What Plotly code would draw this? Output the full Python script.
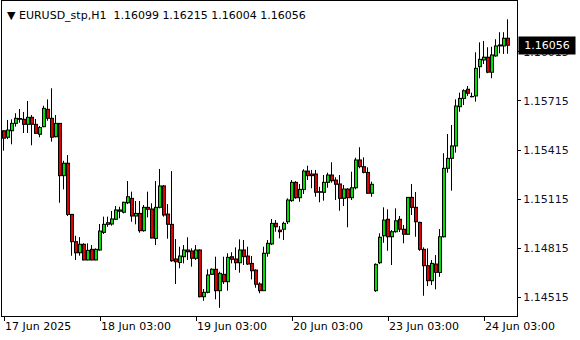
import plotly.graph_objects as go

symbol_title = "EURUSD_stp,H1"

open_ = [1.15533, 1.15493, 1.15533, 1.15578, 1.15603, 1.15603, 1.15572, 1.15615, 1.15572, 1.15511,
         1.15558, 1.15664, 1.15609, 1.15496, 1.15578, 1.15258, 1.15334, 1.15021, 1.14854, 1.14786,
         1.14838, 1.14742, 1.14807, 1.14742, 1.14803, 1.14911, 1.14960, 1.14962, 1.14991, 1.15040,
         1.15034, 1.15092, 1.15119, 1.15011, 1.15027, 1.14921, 1.15064, 1.15054, 1.14874, 1.15064,
         1.15195, 1.15023, 1.14960, 1.14748, 1.14727, 1.14762, 1.14803, 1.14797, 1.14752, 1.14803,
         1.14517, 1.14544, 1.14654, 1.14685, 1.14554, 1.14654, 1.14609, 1.14762, 1.14748, 1.14725,
         1.14803, 1.14766, 1.14721, 1.14680, 1.14595, 1.14554, 1.14783, 1.14840, 1.14966, 1.14925,
         1.14930, 1.14976, 1.15105, 1.15217, 1.15123, 1.15174, 1.15286, 1.15268, 1.15268, 1.15156,
         1.15156, 1.15217, 1.15262, 1.15231, 1.15207, 1.15119, 1.15176, 1.15123, 1.15184, 1.15354,
         1.15313, 1.15278, 1.15150, 1.14554, 1.14725, 1.14890, 1.14991, 1.14884, 1.14915, 1.14991,
         1.14930, 1.14899, 1.15125, 1.15064, 1.14972, 1.14807, 1.14707, 1.14615, 1.14717, 1.14666,
         1.14884, 1.15303, 1.15364, 1.15440, 1.15680, 1.15731, 1.15787, 1.15741, 1.15746, 1.15925,
         1.15966, 1.15983, 1.15891, 1.15991, 1.16052, 1.16052, 1.16099]

high = [1.15537, 1.15599, 1.15603, 1.15640, 1.15666, 1.15648, 1.15715, 1.15629, 1.15605, 1.15562,
        1.15686, 1.15725, 1.15793, 1.15629, 1.15580, 1.15349, 1.15384, 1.15023, 1.14890, 1.14882,
        1.14844, 1.14844, 1.14833, 1.14813, 1.14962, 1.15007, 1.15007, 1.15042, 1.15072, 1.15068,
        1.15098, 1.15225, 1.15160, 1.15103, 1.15103, 1.15078, 1.15160, 1.15089, 1.15225, 1.15299,
        1.15201, 1.15084, 1.15286, 1.14870, 1.14823, 1.14833, 1.14881, 1.14813, 1.14833, 1.14807,
        1.14564, 1.14685, 1.14691, 1.14762, 1.14670, 1.14762, 1.14783, 1.14789, 1.14819, 1.14868,
        1.14864, 1.14823, 1.14766, 1.14685, 1.14605, 1.14823, 1.14864, 1.14993, 1.14986, 1.14950,
        1.14976, 1.15119, 1.15231, 1.15225, 1.15207, 1.15297, 1.15319, 1.15293, 1.15293, 1.15190,
        1.15262, 1.15276, 1.15340, 1.15248, 1.15262, 1.15201, 1.15181, 1.15282, 1.15368, 1.15432,
        1.15370, 1.15309, 1.15221, 1.14721, 1.14905, 1.15064, 1.15052, 1.14925, 1.15058, 1.15011,
        1.14956, 1.15127, 1.15207, 1.15158, 1.14976, 1.14819, 1.14813, 1.14742, 1.14772, 1.14931,
        1.15395, 1.15513, 1.15568, 1.15725, 1.15766, 1.15787, 1.15807, 1.15766, 1.16013, 1.16074,
        1.16082, 1.16044, 1.16047, 1.16093, 1.16136, 1.16136, 1.16215]

low = [1.15411, 1.15482, 1.15450, 1.15558, 1.15582, 1.15519, 1.15519, 1.15444, 1.15513, 1.15493,
       1.15554, 1.15594, 1.15466, 1.15493, 1.15092, 1.15174, 1.15011, 1.14768, 1.14742, 1.14768,
       1.14740, 1.14740, 1.14740, 1.14740, 1.14798, 1.14901, 1.14945, 1.14952, 1.14986, 1.14997,
       1.15027, 1.15084, 1.14976, 1.14960, 1.14909, 1.14915, 1.15003, 1.14874, 1.14833, 1.15058,
       1.15007, 1.14872, 1.14731, 1.14595, 1.14691, 1.14721, 1.14742, 1.14701, 1.14742, 1.14513,
       1.14492, 1.14538, 1.14650, 1.14501, 1.14449, 1.14595, 1.14554, 1.14721, 1.14680, 1.14664,
       1.14711, 1.14711, 1.14623, 1.14572, 1.14538, 1.14552, 1.14762, 1.14833, 1.14915, 1.14874,
       1.14864, 1.14962, 1.15098, 1.15117, 1.15098, 1.15146, 1.15231, 1.15181, 1.15129, 1.15095,
       1.15105, 1.15184, 1.15215, 1.15109, 1.15043, 1.15072, 1.14942, 1.15109, 1.15174, 1.15303,
       1.15272, 1.15146, 1.15129, 1.14547, 1.14717, 1.14847, 1.14798, 1.14711, 1.14909, 1.14913,
       1.14844, 1.14895, 1.15017, 1.14884, 1.14798, 1.14523, 1.14582, 1.14588, 1.14562, 1.14639,
       1.14880, 1.15276, 1.15166, 1.15399, 1.15649, 1.15690, 1.15746, 1.15738, 1.15711, 1.15854,
       1.15941, 1.15885, 1.15854, 1.15986, 1.16007, 1.16003, 1.16004]

close = [1.15487, 1.15537, 1.15578, 1.15609, 1.15608, 1.15572, 1.15615, 1.15572, 1.15517, 1.15552,
         1.15670, 1.15609, 1.15493, 1.15578, 1.15258, 1.15334, 1.15021, 1.14854, 1.14786, 1.14838,
         1.14742, 1.14801, 1.14742, 1.14807, 1.14919, 1.14960, 1.14970, 1.14993, 1.15048, 1.15048,
         1.15095, 1.15129, 1.15011, 1.15027, 1.14921, 1.15064, 1.15052, 1.14876, 1.15064, 1.15195,
         1.15017, 1.14960, 1.14737, 1.14731, 1.14766, 1.14803, 1.14792, 1.14752, 1.14803, 1.14517,
         1.14544, 1.14650, 1.14685, 1.14554, 1.14660, 1.14609, 1.14758, 1.14746, 1.14725, 1.14803,
         1.14762, 1.14717, 1.14676, 1.14593, 1.14554, 1.14783, 1.14844, 1.14966, 1.14945, 1.14915,
         1.14966, 1.15109, 1.15217, 1.15123, 1.15174, 1.15286, 1.15258, 1.15258, 1.15156, 1.15160,
         1.15217, 1.15262, 1.15227, 1.15205, 1.15119, 1.15176, 1.15123, 1.15184, 1.15354, 1.15313,
         1.15278, 1.15150, 1.15205, 1.14715, 1.14881, 1.14986, 1.14884, 1.14915, 1.14982, 1.14930,
         1.14899, 1.15125, 1.15064, 1.14976, 1.14807, 1.14707, 1.14615, 1.14721, 1.14666, 1.14884,
         1.15303, 1.15364, 1.15440, 1.15684, 1.15731, 1.15778, 1.15762, 1.15743, 1.15915, 1.15970,
         1.15983, 1.15891, 1.15997, 1.16052, 1.16058, 1.16099, 1.16056]

price_ticks = [1.16015, 1.15715, 1.15415, 1.15115, 1.14815, 1.14515]
time_tick_bars = [0, 24, 48, 72, 96, 120]
time_tick_labels = ["17 Jun 2025", "18 Jun 03:00", "19 Jun 03:00",
                    "20 Jun 03:00", "23 Jun 03:00", "24 Jun 03:00"]

BULL = "#00e000"
BEAR = "#e00000"
FONT = "DejaVu Sans"

W, H = 580, 340
MARGIN = dict(l=2, r=63, t=1, b=24)
Y_RANGE = [1.14399, 1.16327]
X_RANGE = [-0.5, 128.25]
plot_w = W - MARGIN["l"] - MARGIN["r"]
plot_h = H - MARGIN["t"] - MARGIN["b"]
px_y = (Y_RANGE[1] - Y_RANGE[0]) / plot_h      # one screen pixel in price units
px_x = (X_RANGE[1] - X_RANGE[0]) / plot_w      # one screen pixel in bar units

bars = list(range(len(open_)))
body_lo = [min(o, c) for o, c in zip(open_, close)]
body_hi = [max(o, c) for o, c in zip(open_, close)]
is_bull = [c >= o for o, c in zip(open_, close)]

wx, wy = [], []          # wicks (upper and lower parts only)
ox, oy = [], []          # black body outline, 4px wide stroke
gx, gy, rx, ry = [], [], [], []   # coloured interiors, 2px wide strokes
for i in bars:
    lo, hi = body_lo[i], body_hi[i]
    xw = i - 0.5 * px_x   # put the 1px wick on a whole pixel
    wx += [xw, xw, None, xw, xw, None]
    wy += [hi, high[i], None, low[i], lo, None]
    ox += [i, i, None]
    oy += [lo - 0.5 * px_y, hi + 0.5 * px_y, None]
    if hi - lo > px_y:
        seg_y = [lo + 0.5 * px_y, hi - 0.5 * px_y, None]
        if is_bull[i]:
            gx += [i, i, None]
            gy += seg_y
        else:
            rx += [i, i, None]
            ry += seg_y

fig = go.Figure()
fig.add_trace(go.Scatter(x=ox, y=oy, mode="lines", line=dict(color="black", width=4),
                         hoverinfo="skip", showlegend=False))
fig.add_trace(go.Scatter(x=gx, y=gy, mode="lines", line=dict(color=BULL, width=2),
                         hoverinfo="skip", showlegend=False))
fig.add_trace(go.Scatter(x=rx, y=ry, mode="lines", line=dict(color=BEAR, width=2),
                         hoverinfo="skip", showlegend=False))
fig.add_trace(go.Scatter(x=wx, y=wy, mode="lines", line=dict(color="black", width=1),
                         hoverinfo="skip", showlegend=False))

fig.update_layout(
    width=W, height=H,
    margin=MARGIN,
    paper_bgcolor="white", plot_bgcolor="white",
    font=dict(family=FONT, size=11, color="black"),
    xaxis=dict(
        range=X_RANGE,
        showgrid=False, zeroline=False,
        showline=True, linecolor="black", linewidth=1, mirror=True,
        tickmode="array", tickvals=time_tick_bars, ticktext=time_tick_labels,
        ticks="outside", ticklen=4, tickcolor="black",
        ticklabelposition="outside right",
        tickfont=dict(family=FONT, size=11, color="black"),
    ),
    yaxis=dict(
        range=Y_RANGE, side="right",
        showgrid=False, zeroline=False,
        showline=True, linecolor="black", linewidth=1, mirror=True,
        tickmode="array", tickvals=price_ticks,
        ticktext=[f"{v:.5f}" for v in price_ticks],
        ticks="outside", ticklen=3, tickcolor="black",
        tickfont=dict(family=FONT, size=11, color="#101030"),
    ),
    annotations=[
        dict(xref="paper", yref="paper", x=0.006, y=0.955, xanchor="left", yanchor="middle",
             showarrow=False,
             text="▼ " + symbol_title + "\u00a0\u00a0" + " ".join(
                 f"{v:.5f}" for v in (open_[-1], high[-1], low[-1], close[-1])),
             font=dict(family=FONT, size=11, color="black")),
        dict(xref="paper", yref="y", x=1, y=close[-1], xanchor="left", yanchor="middle",
             xshift=1, showarrow=False, text=f"{close[-1]:.5f}",
             bgcolor="black", borderpad=2, width=52, height=13, align="center",
             font=dict(family=FONT, size=11, color="white")),
    ],
)

fig.write_html("out.html")
